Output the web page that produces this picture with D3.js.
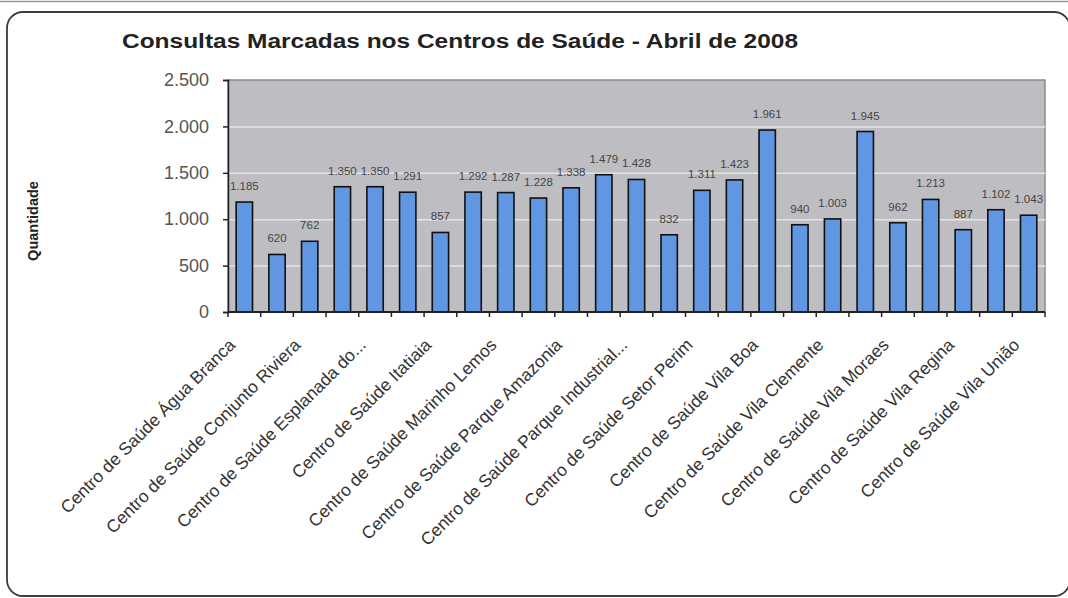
<!DOCTYPE html>
<html lang='pt'>

<head>
    <meta charset='UTF-8'>
    <title>Consultas Marcadas nos Centros de Saúde</title>
    <script src='https://cdn.jsdelivr.net/npm/d3@7'></script>
    <style>
        body {
            margin: 0;
            background: #fff;
            font-family: 'Liberation Sans', Arial, sans-serif;
        }

        .bar {
            fill: #6197e2;
            stroke: #111;
            stroke-width: 1.6;
        }

        .grid line {
            stroke: #e4e4e6;
            stroke-width: 1.5;
        }

        .grid path {
            stroke-width: 0;
        }

        .y-axis text,
        .x-axis text {
            fill: #555;
        }
    </style>
</head>

<body>
    <script>
        // Data (only every other category name is printed in the chart)
        const categoryLabels = [
            'Centro de Saúde Água Branca', '', 'Centro de Saúde Conjunto Riviera', '',
            'Centro de Saúde Esplanada do...', '', 'Centro de Saúde Itatiaia', '',
            'Centro de Saúde Marinho Lemos', '', 'Centro de Saúde Parque Amazonia', '',
            'Centro de Saúde Parque Industrial...', '', 'Centro de Saúde Setor Perim', '',
            'Centro de Saúde Vila Boa', '', 'Centro de Saúde Vila Clemente', '',
            'Centro de Saúde Vila Moraes', '', 'Centro de Saúde Vila Regina', '',
            'Centro de Saúde Vila União'
        ];
        const values = [1185, 620, 762, 1350, 1350, 1291, 857, 1292, 1287, 1228, 1338, 1479, 1428,
            832, 1311, 1423, 1961, 940, 1003, 1945, 962, 1213, 887, 1102, 1043];
        const yTicks = [0, 500, 1000, 1500, 2000, 2500];
        const title = 'Consultas Marcadas nos Centros de Saúde - Abril de 2008';
        const yTitle = 'Quantidade';

        const W = 1068, H = 598;
        const plot = { left: 228, top: 80, right: 1045, bottom: 312 };

        const fmt = d => d3.format(',')(d).replace(/,/g, '.');

        const svg = d3.select('body').append('svg')
            .attr('width', W)
            .attr('height', H);

        // outer frame
        svg.append('line')
            .attr('x1', 0).attr('x2', W).attr('y1', 1.5).attr('y2', 1.5)
            .attr('stroke', '#999').attr('stroke-width', 1.5);

        svg.append('rect')
            .attr('x', 7).attr('y', 12)
            .attr('width', 1070 - 7).attr('height', 596 - 12)
            .attr('rx', 16).attr('ry', 16)
            .attr('fill', '#fff')
            .attr('stroke', '#3c3c3c')
            .attr('stroke-width', 1.8);

        const xScale = d3.scaleBand()
            .domain(d3.range(values.length))
            .range([plot.left, plot.right])
            .paddingInner(0.5)
            .paddingOuter(0.25);

        const yScale = d3.scaleLinear()
            .domain([0, 2500])
            .range([plot.bottom, plot.top]);

        // plot background
        svg.append('rect')
            .attr('x', plot.left).attr('y', plot.top)
            .attr('width', plot.right - plot.left)
            .attr('height', plot.bottom - plot.top)
            .attr('fill', '#bebec2')
            .attr('stroke', '#8a8a8a')
            .attr('stroke-width', 1.5);

        // gridlines
        svg.append('g')
            .attr('class', 'grid')
            .attr('transform', `translate(${plot.left},0)`)
            .call(d3.axisLeft(yScale).tickValues(yTicks.slice(1, -1)).tickSize(-(plot.right - plot.left)).tickFormat(''));

        // bars
        svg.selectAll('.bar')
            .data(values)
            .enter().append('rect')
            .attr('class', 'bar')
            .attr('x', (d, i) => xScale(i))
            .attr('y', d => yScale(d))
            .attr('width', xScale.bandwidth())
            .attr('height', d => yScale(0) - yScale(d));

        // value labels
        svg.selectAll('.val')
            .data(values)
            .enter().append('text')
            .attr('class', 'val')
            .attr('x', (d, i) => xScale(i) + xScale.bandwidth() / 2)
            .attr('y', d => yScale(d) - 12)
            .attr('text-anchor', 'middle')
            .style('font-size', '11.5px')
            .style('fill', '#444')
            .text(fmt);

        // y axis
        const yAxis = svg.append('g')
            .attr('class', 'y-axis')
            .attr('transform', `translate(${plot.left},0)`)
            .call(d3.axisLeft(yScale).tickValues(yTicks).tickSize(5).tickPadding(14).tickFormat(fmt));
        yAxis.select('.domain').attr('stroke', '#222').attr('stroke-width', 1.5);
        yAxis.selectAll('.tick line').attr('stroke', '#222').attr('stroke-width', 1.5);
        yAxis.selectAll('text').style('font-size', '18px');

        // x axis with ticks between categories
        const step = xScale.step();
        const xAxis = svg.append('g')
            .attr('class', 'x-axis')
            .attr('transform', `translate(0,${plot.bottom})`);
        xAxis.append('line')
            .attr('x1', plot.left).attr('x2', plot.right)
            .attr('stroke', '#222').attr('stroke-width', 1.8);
        xAxis.selectAll('.tk')
            .data(d3.range(values.length + 1))
            .enter().append('line')
            .attr('x1', i => plot.left + i * step)
            .attr('x2', i => plot.left + i * step)
            .attr('y1', 0).attr('y2', 5)
            .attr('stroke', '#222').attr('stroke-width', 1.5);

        // category labels (blank ones are skipped, as in the original)
        xAxis.selectAll('.cat')
            .data(d3.range(values.length).filter(i => categoryLabels[i] !== ''))
            .enter().append('text')
            .attr('class', 'cat')
            .attr('text-anchor', 'end')
            .attr('transform', i => `translate(${xScale(i) + xScale.bandwidth() / 2 - 8},${34}) rotate(-45)`)
            .style('font-size', '17.5px')
            .style('fill', '#333')
            .text(i => categoryLabels[i]);

        // title
        svg.append('text')
            .attr('x', 122).attr('y', 48)
            .attr('textLength', 676)
            .attr('lengthAdjust', 'spacingAndGlyphs')
            .style('font-size', '20px')
            .style('font-weight', 'bold')
            .style('fill', '#222')
            .text(title);

        // y axis title
        svg.append('text')
            .attr('text-anchor', 'middle')
            .attr('transform', `translate(38, 221) rotate(-90)`)
            .style('font-size', '14.5px')
            .style('font-weight', 'bold')
            .style('fill', '#222')
            .text(yTitle);
    </script>
</body>

</html>
